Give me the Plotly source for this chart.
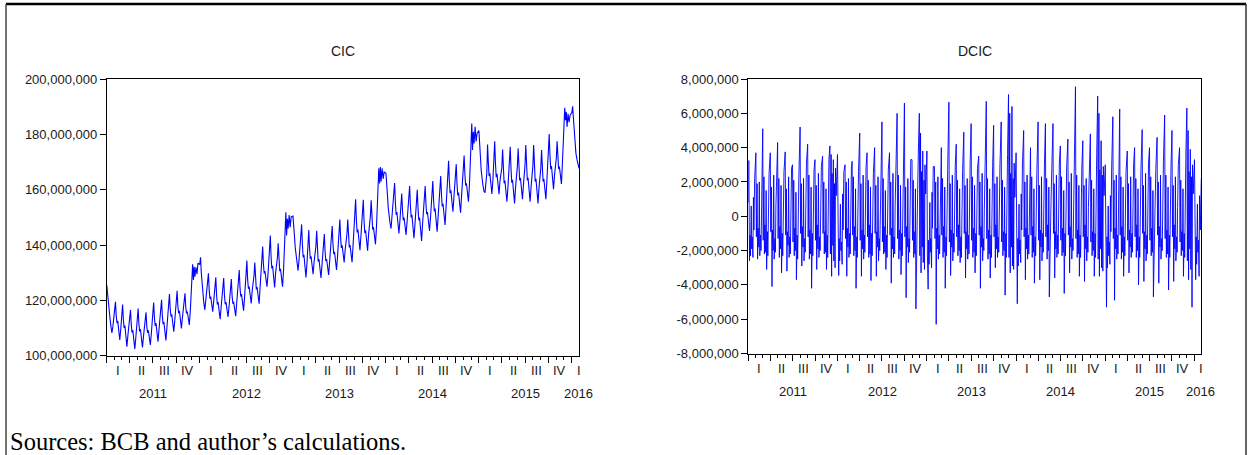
import plotly.graph_objects as go
from datetime import date, timedelta

W, H = 1248, 455

# Currency in circulation, R$ millions, eight readings per month (Jan 2011 - Jan 2016)
cic_2011 = [
    125.5, 122.0, 118.6, 116.2, 114.0, 110.8, 108.2, 110.6,
    116.0, 119.5, 114.5, 111.8, 112.6, 108.6, 105.7, 109.8,
    115.2, 118.5, 113.2, 110.0, 110.9, 106.4, 103.3, 107.5,
    113.0, 116.5, 111.4, 108.4, 109.3, 105.0, 102.4, 106.6,
    113.4, 117.1, 111.6, 108.8, 109.6, 105.5, 103.0, 107.0,
    112.8, 115.7, 110.6, 108.3, 109.2, 106.0, 103.9, 108.2,
    115.4, 119.2, 113.8, 110.8, 111.8, 107.6, 105.1, 109.5,
    116.0, 120.2, 114.6, 111.4, 112.3, 108.0, 105.5, 110.2,
    118.5, 122.3, 117.0, 114.2, 115.0, 111.2, 108.7, 112.8,
    119.6, 123.5, 118.0, 115.4, 116.2, 112.4, 109.9, 113.8,
    119.0, 122.6, 117.6, 115.3, 116.0, 113.0, 111.1, 116.4,
    127.0, 133.1, 127.4, 132.2, 128.6, 132.0, 129.5, 133.5,
]
cic_2012 = [
    133.0, 135.6, 130.0, 125.5, 122.5, 119.0, 116.6, 121.0,
    125.5, 129.8, 123.8, 120.6, 121.4, 118.0, 115.9, 120.0,
    124.6, 128.4, 122.0, 118.5, 119.4, 115.6, 113.2, 117.6,
    123.8, 128.1, 121.8, 118.6, 119.4, 116.0, 114.0, 117.8,
    123.6, 127.7, 121.6, 118.8, 119.5, 116.2, 114.3, 119.0,
    126.4, 131.0, 124.6, 121.4, 122.3, 118.4, 116.3, 121.2,
    129.4, 134.4, 127.6, 124.2, 125.0, 121.0, 118.9, 123.6,
    129.0, 133.7, 127.4, 124.0, 124.8, 121.0, 118.8, 125.0,
    134.5, 139.5, 133.0, 129.8, 130.6, 127.0, 125.0, 129.5,
    137.6, 143.5, 135.8, 131.6, 132.5, 127.4, 124.7, 130.2,
    135.6, 140.7, 134.2, 130.6, 131.4, 127.4, 125.0, 131.0,
    144.0, 151.9, 143.5, 149.5, 146.0, 150.9, 146.5, 150.2,
]
cic_2013 = [
    150.5, 148.0, 143.0, 139.0, 136.5, 133.0, 130.8, 135.0,
    142.0, 147.5, 140.2, 135.6, 136.5, 131.0, 128.3, 133.5,
    140.5, 145.5, 139.0, 135.0, 136.0, 131.8, 129.5, 134.0,
    139.6, 145.2, 138.4, 134.0, 135.0, 130.4, 128.1, 133.0,
    139.0, 144.0, 137.8, 134.2, 135.0, 131.2, 129.2, 134.2,
    141.6, 146.9, 140.4, 136.8, 137.6, 133.2, 131.0, 136.0,
    144.0, 149.3, 142.8, 139.0, 139.9, 135.8, 133.7, 138.4,
    144.2, 149.3, 143.0, 139.2, 140.0, 136.0, 133.8, 140.0,
    150.6, 156.6, 149.0, 144.6, 145.6, 140.6, 138.2, 143.5,
    150.4, 156.4, 148.8, 144.4, 145.4, 140.4, 138.0, 144.0,
    150.6, 156.2, 149.4, 145.6, 146.5, 142.6, 140.3, 147.0,
    158.0, 167.8, 162.3, 168.3, 163.0, 167.8, 164.0, 166.5,
]
cic_2014 = [
    166.0, 163.0, 158.0, 153.5, 150.5, 148.0, 146.0, 150.0,
    158.0, 162.5, 155.5, 151.0, 152.0, 147.0, 144.2, 149.0,
    154.0, 158.7, 152.6, 149.0, 150.0, 146.0, 143.7, 148.5,
    156.0, 161.4, 154.4, 150.0, 151.0, 145.0, 142.5, 147.6,
    155.0, 160.0, 153.2, 149.0, 150.0, 144.2, 141.5, 148.0,
    156.8, 161.4, 155.0, 151.2, 152.0, 147.6, 145.1, 150.0,
    157.8, 163.2, 156.4, 152.2, 153.2, 147.4, 144.9, 150.5,
    159.6, 165.0, 158.2, 154.0, 155.0, 149.8, 147.3, 153.5,
    164.6, 170.5, 163.2, 158.8, 159.8, 154.6, 152.1, 157.5,
    163.8, 169.3, 162.2, 158.0, 159.0, 154.2, 151.7, 158.0,
    166.8, 172.4, 165.6, 161.6, 162.4, 158.0, 155.7, 162.0,
    174.0, 184.0, 174.4, 181.0, 176.8, 182.8, 177.5, 180.5,
]
cic_2015 = [
    181.5, 178.0, 172.0, 167.0, 164.0, 161.5, 159.5, 159.0,
    166.0, 176.4, 170.0, 165.0, 166.0, 161.0, 158.5, 163.5,
    170.0, 177.6, 169.6, 164.6, 165.8, 160.6, 158.4, 163.5,
    168.0, 174.6, 167.2, 162.4, 163.4, 158.0, 155.7, 161.0,
    168.5, 175.6, 167.8, 162.6, 163.6, 157.6, 155.1, 161.0,
    168.5, 175.0, 168.0, 163.4, 164.4, 159.0, 156.6, 162.0,
    169.0, 176.2, 168.6, 163.4, 164.4, 158.2, 155.7, 161.2,
    168.8, 176.2, 168.2, 163.0, 164.0, 157.6, 155.1, 160.8,
    167.8, 174.4, 167.4, 163.0, 164.0, 159.0, 156.6, 163.5,
    172.5, 180.2, 172.4, 167.6, 168.6, 162.6, 160.2, 165.5,
    171.5, 177.6, 171.2, 167.6, 168.4, 164.4, 162.1, 170.0,
    182.0, 189.7, 185.2, 188.2, 182.8, 187.5, 184.5, 187.0,
]
cic_2016 = [188.0, 190.2, 186.0, 182.0, 177.0, 173.2, 171.0, 169.0, 167.8]

# Daily change in CIC, R$ millions, twelve readings per month
dcic_2011 = [
    0.8, 3.25, -2.6, -1.1, -2.3, 0.6, -1.9, -1.2, -2.4, 1.1, -0.8, 2.2,
    3.7, -1.2, 1.9, -2.5, -0.7, -1.8, 2.0, -2.3, -1.1, -2.0, 0.4, 2.7,
    5.1, -1.4, 2.3, -2.2, -0.5, -2.1, 1.5, -3.1, -0.9, -2.3, 0.8, 2.5,
    3.7, -0.9, 1.7, -4.1, -0.8, -2.0, 2.4, -2.5, -1.3, -2.1, 0.6, 2.9,
    4.3, -1.3, 2.2, -2.4, -0.6, -1.9, 1.8, -3.3, -1.0, -2.3, 0.7, 2.6,
    3.75, -1.1, 1.6, -3.2, -0.9, -1.7, 2.3, -2.4, -1.2, -2.2, 0.4, 2.8,
    3.0, -1.5, 2.1, -2.3, -0.7, -2.0, 1.4, -3.7, -1.1, -2.5, 0.9, 2.4,
    5.2, -1.0, 1.9, -2.9, -0.6, -1.8, 2.2, -2.6, -1.3, -2.1, 0.5, 3.1,
    4.2, -1.2, 2.4, -2.5, -0.8, -2.2, 1.7, -4.2, -1.0, -2.3, 0.8, 2.7,
    3.3, -1.4, 1.8, -3.1, -0.5, -1.9, 2.5, -2.4, -1.2, -2.0, 0.6, 2.9,
    3.5, -1.0, 2.0, -2.2, -0.9, -2.1, 1.6, -3.1, -1.1, -2.4, 1.2, 3.3,
    4.1, -2.2, 3.6, -3.5, 2.5, -1.7, 3.3, -2.6, 1.9, -3.0, 2.8, 1.2,
]
dcic_2012 = [
    3.6, -2.1, -3.45, -1.3, -2.6, 0.7, -2.0, -1.5, -2.8, 1.3, -0.8, 2.6,
    3.0, -1.3, 2.0, -3.5, -0.7, -1.8, 2.2, -2.4, -1.0, -2.2, 0.5, 2.8,
    3.2, -1.1, 2.3, -2.3, -0.6, -2.0, 1.6, -4.2, -1.2, -2.4, 0.9, 2.6,
    4.85, -1.4, 1.9, -3.5, -0.8, -1.9, 2.4, -2.5, -1.1, -2.1, 0.6, 2.9,
    3.7, -1.2, 2.1, -2.4, -0.5, -2.2, 1.7, -3.75, -1.0, -2.3, 0.8, 2.5,
    4.0, -1.0, 1.8, -3.5, -0.9, -1.8, 2.3, -2.6, -1.3, -2.0, 0.4, 3.0,
    5.5, -1.5, 2.2, -2.2, -0.6, -2.1, 1.5, -3.1, -1.1, -2.4, 0.9, 2.7,
    3.7, -1.1, 2.0, -3.9, -0.7, -1.9, 2.5, -2.4, -1.2, -2.2, 0.6, 3.2,
    6.0, -1.3, 2.4, -2.5, -0.8, -2.0, 1.8, -3.4, -1.0, -2.3, 0.7, 2.8,
    6.6, -1.2, 1.7, -4.75, -0.6, -1.8, 2.2, -2.7, -1.3, -2.1, 0.5, 3.3,
    3.3, -1.4, 2.1, -2.4, -0.9, -2.2, 1.6, -5.4, -1.1, -2.5, 1.4, 3.8,
    6.0, -2.3, 4.85, -3.3, 2.6, -1.8, 3.8, -2.7, 2.1, -3.1, 3.0, 1.3,
]
dcic_2013 = [
    3.8, -2.2, -4.25, -1.4, -2.8, 0.8, -2.1, -1.3, -3.0, 1.4, -0.7, 2.9,
    2.9, -1.3, 2.0, -6.3, -0.7, -1.9, 2.3, -2.5, -1.1, -2.2, 0.6, 3.0,
    4.0, -1.1, 2.2, -2.4, -0.6, -2.1, 1.7, -4.2, -1.2, -2.3, 0.8, 2.7,
    6.65, -1.5, 1.9, -3.45, -0.8, -1.8, 2.4, -2.6, -1.0, -2.1, 0.5, 2.9,
    4.2, -1.2, 2.1, -2.3, -0.5, -2.0, 1.6, -2.7, -1.2, -2.4, 0.9, 2.6,
    4.9, -1.0, 1.8, -3.6, -0.9, -1.9, 2.2, -2.5, -1.1, -2.2, 0.6, 3.1,
    5.4, -1.4, 2.3, -2.4, -0.7, -2.1, 1.8, -3.3, -1.0, -2.3, 0.7, 2.8,
    3.5, -1.1, 2.0, -4.2, -0.6, -1.8, 2.5, -2.6, -1.3, -2.0, 0.4, 3.2,
    6.7, -1.3, 2.2, -2.5, -0.8, -2.2, 1.6, -3.6, -1.1, -2.4, 0.8, 2.9,
    5.3, -1.2, 1.9, -3.0, -0.5, -1.9, 2.3, -2.4, -1.2, -2.1, 0.6, 3.0,
    5.5, -1.5, 2.1, -2.3, -0.9, -2.0, 1.7, -4.6, -1.0, -2.4, 1.3, 3.6,
    7.1, -2.4, 6.0, -3.3, 2.5, -1.8, 6.4, -2.9, 2.2, -3.1, 3.1, 1.1,
]
dcic_2014 = [
    3.7, -2.3, -5.1, -1.3, -2.9, 0.7, -2.2, -1.4, -2.7, 1.3, -0.8, 3.0,
    5.0, -1.2, 2.0, -3.7, -0.7, -1.9, 2.4, -2.5, -1.1, -2.2, 0.5, 2.8,
    4.0, -1.1, 2.3, -2.4, -0.6, -2.1, 1.6, -3.9, -1.2, -2.3, 0.9, 2.6,
    5.5, -1.4, 1.8, -3.7, -0.8, -1.8, 2.3, -2.6, -1.0, -2.1, 0.6, 3.0,
    5.4, -1.2, 2.2, -2.5, -0.5, -2.0, 1.7, -4.7, -1.2, -2.4, 0.8, 2.7,
    5.4, -1.0, 1.9, -3.6, -0.9, -1.9, 2.4, -2.4, -1.1, -2.2, 0.5, 3.1,
    4.1, -1.4, 2.3, -2.3, -0.7, -2.1, 1.5, -4.5, -1.0, -2.3, 0.7, 2.9,
    4.5, -1.1, 2.0, -3.3, -0.6, -1.8, 2.5, -2.5, -1.3, -2.0, 0.6, 3.2,
    7.55, -1.3, 2.4, -2.4, -0.8, -2.2, 1.8, -3.5, -1.1, -2.4, 0.8, 2.8,
    4.4, -1.2, 1.8, -3.8, -0.5, -1.9, 2.2, -2.6, -1.2, -2.1, 0.5, 3.0,
    4.8, -1.5, 2.1, -2.3, -0.9, -2.0, 1.6, -3.5, -1.0, -2.4, 1.4, 3.7,
    7.0, -2.5, 6.0, -3.5, 2.7, -1.9, 4.4, -3.0, 2.4, -3.2, 2.9, 1.2,
]
dcic_2015 = [
    3.0, -2.4, -5.3, -1.2, -3.0, 0.6, -2.3, -1.5, -2.8, 1.2, -0.9, 2.7,
    5.8, -1.3, 2.1, -4.9, -0.7, -1.9, 2.4, -2.5, -1.1, -2.2, 0.6, 2.9,
    6.25, -1.1, 2.3, -2.5, -0.6, -2.1, 1.7, -3.5, -1.2, -2.3, 0.8, 2.6,
    3.8, -1.4, 1.9, -3.3, -0.8, -1.8, 2.3, -2.4, -1.0, -2.1, 0.5, 3.0,
    4.0, -1.2, 2.2, -2.4, -0.5, -2.0, 1.6, -4.0, -1.2, -2.4, 0.9, 2.7,
    5.05, -1.0, 1.8, -3.8, -0.9, -1.9, 2.5, -2.6, -1.1, -2.2, 0.6, 3.1,
    4.0, -1.4, 2.3, -2.3, -0.7, -2.1, 1.5, -4.7, -1.0, -2.3, 0.7, 2.8,
    4.6, -1.1, 2.0, -3.9, -0.6, -1.8, 2.4, -2.5, -1.3, -2.0, 0.6, 3.2,
    5.9, -1.3, 2.4, -2.4, -0.8, -2.2, 1.7, -4.3, -1.1, -2.4, 0.8, 2.9,
    5.0, -1.2, 1.8, -3.8, -0.5, -1.9, 2.3, -2.6, -1.2, -2.1, 0.5, 3.0,
    4.0, -1.5, 2.1, -2.3, -0.9, -2.0, 1.6, -3.5, -1.0, -2.4, 1.5, 3.8,
    6.3, -2.6, 5.0, -3.7, 2.6, -1.9, 3.9, -3.1, 2.3, -5.3, 3.0, 1.3,
]
dcic_2016 = [3.3, -2.4, -3.7, -1.2, -2.8, 0.7, -2.1, -1.4, -3.5, 1.2, -0.8, 2.2]

# Days of the month at which the readings are taken
CIC_DAYS = [1, 4, 7, 10, 13, 17, 21, 25]
CIC_DAYS_LAST = [1, 4, 7, 10, 13, 17, 21, 25, 29]
DCIC_DAYS = [1, 3, 6, 8, 10, 13, 15, 17, 20, 22, 24, 27]
DCIC_DAYS_LAST = [1, 3, 6, 8, 10, 13, 15, 17, 20, 22, 25, 29]

YEARS = [2011, 2012, 2013, 2014, 2015]
QUARTERS = ["I", "II", "III", "IV"]
START = date(2011, 1, 1)
END = date(2016, 1, 29)

BLUE = "#0000ff"
INK = "#1a1a1a"
SANS = "Liberation Sans, Arial, sans-serif"


def series(year_lists, last_values, days, last_days):
    xs, ys = [], []
    n = len(days)
    for year, vals in zip(YEARS, year_lists):
        for i, v in enumerate(vals):
            xs.append(date(year, i // n + 1, days[i % n]))
            ys.append(v * 1e6)
    for d, v in zip(last_days, last_values):
        xs.append(date(2016, 1, d))
        ys.append(v * 1e6)
    return xs, ys


cic_x, cic_y = series([cic_2011, cic_2012, cic_2013, cic_2014, cic_2015],
                      cic_2016, CIC_DAYS, CIC_DAYS_LAST)
dcic_x, dcic_y = series([dcic_2011, dcic_2012, dcic_2013, dcic_2014, dcic_2015],
                        dcic_2016, DCIC_DAYS, DCIC_DAYS_LAST)

month_starts = [date(y, m, 1) for y in YEARS for m in range(1, 13)] + [date(2016, 1, 1)]
quarter_starts = [date(y, m, 1) for y in YEARS for m in (1, 4, 7, 10)] + [date(2016, 1, 1)]
quarter_mids = [date(y, m, 1) + timedelta(days=45) for y in YEARS for m in (1, 4, 7, 10)]
quarter_text = QUARTERS * len(YEARS)
quarter_mids.append(END - timedelta(days=1))
quarter_text.append("I")
year_mids = [date(y, 7, 2) for y in YEARS] + [END - timedelta(days=2)]
year_text = [str(y) for y in YEARS] + ["2016"]

fig = go.Figure()
fig.add_trace(go.Scatter(x=cic_x, y=cic_y, mode="lines",
                         line=dict(color=BLUE, width=1.1), xaxis="x", yaxis="y"))
fig.add_trace(go.Scatter(x=dcic_x, y=dcic_y, mode="lines",
                         line=dict(color=BLUE, width=0.9), xaxis="x2", yaxis="y2"))

PX_L, PX_R = 106.8, 579.0
PX2_L, PX2_R = 748.3, 1201.3
TOP1, BOT1 = 79.3, 355.7
TOP2, BOT2 = 79.0, 353.5


def xaxis(domain, anchor):
    return dict(
        domain=domain, anchor=anchor, type="date", range=[START, END],
        showline=True, linecolor="black", linewidth=1, mirror=True,
        showgrid=False, zeroline=False,
        tickmode="array", tickvals=quarter_starts, ticks="outside",
        ticklen=6, tickwidth=1, tickcolor="black", showticklabels=False,
        minor=dict(tickmode="array", tickvals=month_starts, ticks="outside",
                   ticklen=3, tickwidth=1, tickcolor="black", showgrid=False),
    )


def yaxis(domain, anchor, lo, hi, step):
    vals = list(range(lo, hi + 1, step))
    return dict(
        domain=domain, anchor=anchor, range=[lo, hi],
        showline=True, linecolor="black", linewidth=1, mirror=True,
        showgrid=False, zeroline=False,
        tickmode="array", tickvals=vals, ticktext=[f"{v:,}" for v in vals],
        ticks="outside", ticklen=6, tickwidth=1, tickcolor="black",
        tickfont=dict(family=SANS, size=13, color=INK),
    )


fig.update_layout(
    width=W, height=H, margin=dict(l=0, r=0, t=0, b=0, pad=0, autoexpand=False),
    paper_bgcolor="white", plot_bgcolor="white", showlegend=False,
    xaxis=xaxis([PX_L / W, PX_R / W], "y"),
    yaxis=yaxis([1 - BOT1 / H, 1 - TOP1 / H], "x", 100_000_000, 200_000_000, 20_000_000),
    xaxis2=xaxis([PX2_L / W, PX2_R / W], "y2"),
    yaxis2=yaxis([1 - BOT2 / H, 1 - TOP2 / H], "x2", -8_000_000, 8_000_000, 2_000_000),
)

ann = []
for xref, yref in (("x", "y domain"), ("x2", "y2 domain")):
    for xv, t in zip(quarter_mids, quarter_text):
        ann.append(dict(x=xv, y=0, xref=xref, yref=yref, text=t, showarrow=False,
                        xanchor="center", yanchor="middle", yshift=-15,
                        font=dict(family=SANS, size=13, color=INK)))
    for xv, t in zip(year_mids, year_text):
        ann.append(dict(x=xv, y=0, xref=xref, yref=yref, text=t, showarrow=False,
                        xanchor="center", yanchor="middle", yshift=-38,
                        font=dict(family=SANS, size=13, color=INK)))

for title, l, r in (("CIC", PX_L, PX_R), ("DCIC", PX2_L, PX2_R)):
    ann.append(dict(x=(l + r) / 2 / W, y=1 - 51 / H, xref="paper", yref="paper",
                    text=title, showarrow=False, xanchor="center", yanchor="middle",
                    font=dict(family=SANS, size=14, color=INK)))

ann.append(dict(x=8 / W, y=1 - 441 / H, xref="paper", yref="paper",
                text="Sources: BCB and author’s calculations.", showarrow=False,
                xanchor="left", yanchor="middle",
                font=dict(family="Liberation Serif, Times New Roman, serif", size=24.5,
                          color="black")))
fig.update_layout(annotations=ann)

# Page frame
frame = [
    dict(x0=6 / W, x1=1246 / W, y0=1 - 4 / H, y1=1 - 4 / H, color="black", width=2.5),
    dict(x0=6 / W, x1=6 / W, y0=0, y1=1 - 4 / H, color="#444444", width=1.5),
    dict(x0=1246 / W, x1=1246 / W, y0=0, y1=1 - 4 / H, color="#333333", width=1.5),
]
for f in frame:
    fig.add_shape(type="line", xref="paper", yref="paper",
                  x0=f["x0"], x1=f["x1"], y0=f["y0"], y1=f["y1"],
                  line=dict(color=f["color"], width=f["width"]))

fig.write_html("out.html")
